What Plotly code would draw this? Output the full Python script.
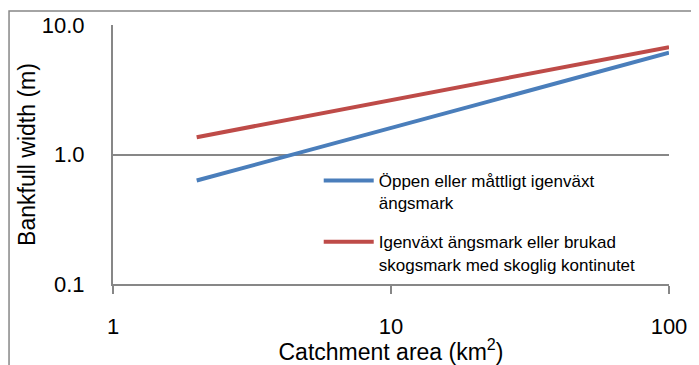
import plotly.graph_objects as go

area = [2, 100]
open_meadow = [0.63, 6.1]
overgrown = [1.36, 6.75]
names = ["Öppen eller måttligt igenväxt<br>ängsmark",
         "Igenväxt ängsmark eller brukad<br>skogsmark med skoglig kontinutet"]
x_ticks = [1, 10, 100]
y_ticks = [0.1, 1, 10]
y_tick_text = ["0.1", "1.0", "10.0"]

FONT = "Liberation Sans"
fig = go.Figure()
fig.add_trace(go.Scatter(x=area, y=open_meadow, mode="lines", name=names[0],
                         line=dict(color="#4A7EBB", width=4), legendgroup="a"))
fig.add_trace(go.Scatter(x=area, y=overgrown, mode="lines", name=names[1],
                         line=dict(color="#BE4B48", width=4), legendgroup="b"))

fig.update_layout(
    width=691, height=357,
    margin=dict(l=105, r=30, t=17, b=81, autoexpand=False),
    paper_bgcolor="white", plot_bgcolor="white",
    font=dict(family=FONT, color="black"),
    showlegend=True,
    legend=dict(x=0.37, y=0.467, xanchor="left", yanchor="top", valign="top",
                bgcolor="rgba(0,0,0,0)", font=dict(size=17, family=FONT),
                traceorder="grouped", tracegroupgap=14, itemwidth=50),
    xaxis=dict(type="log", range=[0, 2], tickvals=x_ticks, ticktext=[str(v) for v in x_ticks],
               showgrid=False, showline=True, linecolor="#878787", linewidth=2,
               ticks="outside", ticklen=8, tickwidth=2, tickcolor="#878787",
               tickfont=dict(size=22), zeroline=False, ticklabelstandoff=14, automargin=False,
               title=dict(text="Catchment area (km<sup>2</sup>)", font=dict(size=23), standoff=0)),
    yaxis=dict(type="log", range=[-1, 1], tickvals=y_ticks, ticktext=y_tick_text,
               showgrid=True, gridcolor="#878787", gridwidth=1.5,
               showline=True, linecolor="#878787", linewidth=2,
               ticks="", tickfont=dict(size=22), zeroline=False, ticklabelstandoff=22, automargin=False,
               title=dict(text="Bankfull width (m)", font=dict(size=23), standoff=0)),
    shapes=[dict(type="rect", xref="paper", yref="paper",
                 x0=-0.187, x1=1.07, y0=-0.36, y1=1.054,
                 line=dict(color="#878787", width=1.5), layer="below")],
)
fig.write_html("out.html")
